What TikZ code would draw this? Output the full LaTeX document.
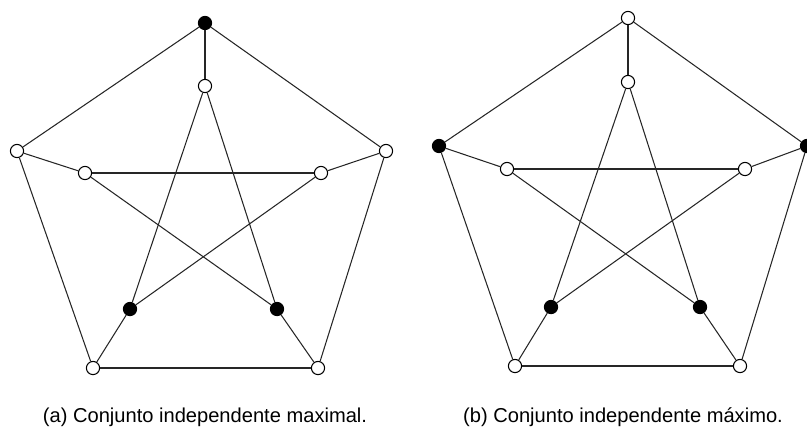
\documentclass[tikz,border=0pt]{standalone}
\usepackage{fontspec}
\setmainfont{Liberation Sans}
\usepackage{tikz}
\usetikzlibrary{positioning}
\tikzset{
  vtx/.style={circle, draw=black, fill=white, minimum size=0.33cm,
    inner sep=0pt, line width=0.75pt},
  bvtx/.style={vtx, fill=black},
  edge/.style={line width=0.75pt, color=black!85},
  caption/.style={font=\fontsize{14.3}{17}\selectfont, anchor=center}
}
\begin{document}
\begin{tikzpicture}[x=0.025cm, y=-0.025cm]
  \useasboundingbox (0,0) rectangle (807,437);

  % (a) maximal set
  \node[bvtx] (a_o1) at (205, 23) {};
  \node[vtx]  (a_o2) at (386, 151) {};
  \node[vtx]  (a_o3) at (318, 368) {};
  \node[vtx]  (a_o4) at (93, 368) {};
  \node[vtx]  (a_o5) at (17, 151) {};
  \node[vtx]  (a_i1) at (205, 86) {};
  \node[vtx]  (a_i2) at (321, 173) {};
  \node[bvtx] (a_i3) at (277, 309) {};
  \node[bvtx] (a_i4) at (130, 309) {};
  \node[vtx]  (a_i5) at (85, 173) {};

  % (b) maximum set
  \node[vtx]  (b_o1) at (628, 18) {};
  \node[bvtx] (b_o2) at (807, 146) {};
  \node[vtx]  (b_o3) at (740, 366) {};
  \node[vtx]  (b_o4) at (515, 366) {};
  \node[bvtx] (b_o5) at (439, 146) {};
  \node[vtx]  (b_i1) at (628, 82) {};
  \node[vtx]  (b_i2) at (745, 169) {};
  \node[bvtx] (b_i3) at (700, 307) {};
  \node[bvtx] (b_i4) at (551, 307) {};
  \node[vtx]  (b_i5) at (507, 169) {};

  % Edges of both graphs
  \foreach \g in {a, b} {
    % outer cycle
    \draw[edge] (\g_o1) -- (\g_o2);
    \draw[edge] (\g_o2) -- (\g_o3);
    \draw[edge] (\g_o3) -- (\g_o4);
    \draw[edge] (\g_o4) -- (\g_o5);
    \draw[edge] (\g_o5) -- (\g_o1);
    % spokes
    \draw[edge] (\g_o1) -- (\g_i1);
    \draw[edge] (\g_o2) -- (\g_i2);
    \draw[edge] (\g_o3) -- (\g_i3);
    \draw[edge] (\g_o4) -- (\g_i4);
    \draw[edge] (\g_o5) -- (\g_i5);
    % inner star
    \draw[edge] (\g_i1) -- (\g_i3);
    \draw[edge] (\g_i1) -- (\g_i4);
    \draw[edge] (\g_i5) -- (\g_i2);
    \draw[edge] (\g_i5) -- (\g_i3);
    \draw[edge] (\g_i2) -- (\g_i4);
  }

  % Captions
  \node[caption] (cap_a) at (205, 417) {(a) Conjunto independente maximal.};
  \node[caption] (cap_b) at (623, 417) {(b) Conjunto independente máximo.};
\end{tikzpicture}
\end{document}
